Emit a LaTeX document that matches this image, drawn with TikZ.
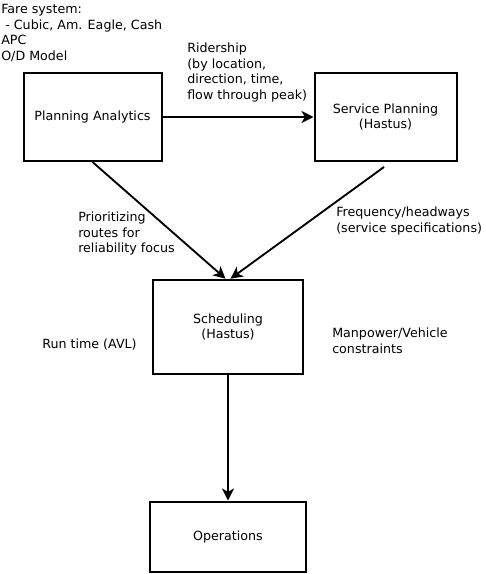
\documentclass[tikz,border=0pt]{standalone}
\usepackage{fontspec}
\setmainfont{DejaVu Sans}
\usetikzlibrary{arrows.meta,calc}
\begin{document}
\begin{tikzpicture}[x=0.75pt,y=-0.75pt,
  every node/.style={font=\fontsize{9.5pt}{11.8pt}\selectfont},
  box/.style={draw,line width=1.5pt,align=center,inner sep=0pt},
  lbl/.style={anchor=north west,align=left,inner sep=0pt},
  arr/.style={line width=1.4pt,-{Stealth[length=9pt,width=9pt,inset=2.5pt]}}]
\useasboundingbox (0,0) rectangle (485,574);
\node[box,minimum width=103.5pt,minimum height=66pt] (pa) at (92.5,117) {Planning Analytics};
\node[box,minimum width=106.5pt,minimum height=66pt] (sp) at (385.5,117) {Service Planning\\(Hastus)};
\node[box,minimum width=112.5pt,minimum height=71pt] (sch) at (228,327) {Scheduling\\(Hastus)};
\node[box,minimum width=117.5pt,minimum height=52.5pt] (ops) at (228,536.5) {Operations};
\coordinate (s2) at ($(sp.south)+(-1.5,5)$);
\coordinate (t1) at ($(sch.north)+(-2.5,0)$);
\coordinate (t2) at ($(sch.north)+(2.5,0)$);
\draw[arr] (pa) -- (sp);
\draw[arr] (pa.south) -- (t1);
\draw[arr] (s2) -- (t2);
\draw[arr] (sch.south) -- (ops.north);
\node[lbl] (fare) at (1,4) {Fare system:\\\ - Cubic, Am. Eagle, Cash\\APC\\O/D Model};
\node[lbl] (rid) at (187,42.5) {Ridership\\(by location,\\direction, time,\\flow through peak)};
\node[lbl] (prio) at (78,211.5) {Prioritizing\\routes for\\reliability focus};
\node[lbl] (freq) at (336,207) {Frequency/headways\\(service specifications)};
\node[lbl] (run) at (42,338.5) {Run time (AVL)};
\node[lbl] (man) at (332,328) {Manpower/Vehicle\\constraints};
\end{tikzpicture}
\end{document}
